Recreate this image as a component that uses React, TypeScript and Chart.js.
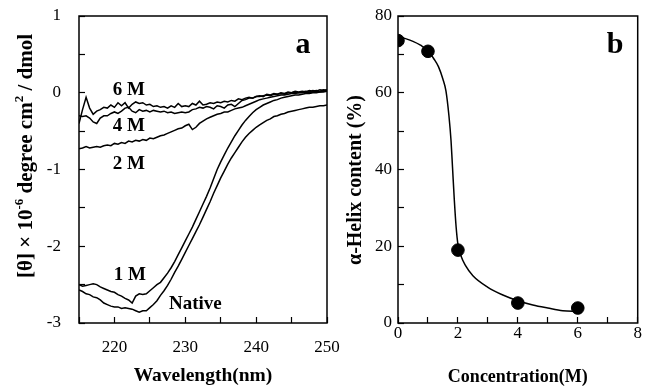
import React, { useEffect, useRef } from 'react';
import { Chart, registerables } from 'chart.js';

Chart.register(...registerables);

const SERIF = "'Liberation Serif', 'Times New Roman', Times, serif";

// ---------- Panel a: CD spectra ----------
const wavelengths = [
  215, 215.5, 216, 216.5, 217, 217.5, 218, 218.5, 219, 219.5,
  220, 220.5, 221, 221.5, 222, 222.5, 223, 223.5, 224, 224.5,
  225, 225.5, 226, 226.5, 227, 227.5, 228, 228.5, 229, 229.5,
  230, 230.5, 231, 231.5, 232, 232.5, 233, 233.5, 234, 234.5,
  235, 235.5, 236, 236.5, 237, 237.5, 238, 238.5, 239, 239.5,
  240, 240.5, 241, 241.5, 242, 242.5, 243, 243.5, 244, 244.5,
  245, 245.5, 246, 246.5, 247, 247.5, 248, 248.5, 249, 249.5, 250,
];

const nativeCD = [
  -2.57, -2.59, -2.62, -2.63, -2.66, -2.67, -2.70, -2.74, -2.76, -2.78,
  -2.79, -2.79, -2.81, -2.80, -2.81, -2.82, -2.84, -2.86, -2.84, -2.84,
  -2.80, -2.76, -2.71, -2.64, -2.58, -2.51, -2.43, -2.34, -2.26, -2.17,
  -2.08, -1.99, -1.90, -1.81, -1.72, -1.62, -1.52, -1.42, -1.31, -1.21,
  -1.11, -1.02, -0.93, -0.85, -0.78, -0.71, -0.64, -0.58, -0.53, -0.49,
  -0.45, -0.42, -0.39, -0.36, -0.34, -0.31, -0.30, -0.28, -0.27, -0.25,
  -0.24, -0.23, -0.22, -0.21, -0.20, -0.19, -0.19, -0.18, -0.17, -0.17, -0.16,
];

const oneM = [
  -2.50, -2.52, -2.51, -2.50, -2.49, -2.50, -2.53, -2.55, -2.57, -2.59,
  -2.60, -2.63, -2.65, -2.68, -2.70, -2.74, -2.65, -2.62, -2.63, -2.62,
  -2.58, -2.54, -2.50, -2.47, -2.41, -2.35, -2.28, -2.20, -2.11, -2.02,
  -1.93, -1.84, -1.75, -1.65, -1.55, -1.45, -1.35, -1.24, -1.12, -1.00,
  -0.90, -0.81, -0.72, -0.64, -0.56, -0.49, -0.42, -0.36, -0.31, -0.26,
  -0.22, -0.19, -0.16, -0.14, -0.12, -0.10, -0.09, -0.07, -0.06, -0.05,
  -0.04, -0.03, -0.03, -0.02, -0.01, -0.01, 0.00, 0.00, 0.01, 0.01, 0.02,
];

const twoM = [
  -0.73, -0.72, -0.70, -0.72, -0.71, -0.70, -0.71, -0.69, -0.68, -0.69,
  -0.66, -0.67, -0.65, -0.66, -0.63, -0.64, -0.62, -0.63, -0.61, -0.62,
  -0.59, -0.60, -0.58, -0.56, -0.55, -0.53, -0.51, -0.49, -0.47, -0.46,
  -0.43, -0.41, -0.48, -0.45, -0.40, -0.37, -0.34, -0.32, -0.30, -0.28,
  -0.27, -0.25, -0.25, -0.23, -0.21, -0.20, -0.19, -0.17, -0.15, -0.13,
  -0.11, -0.09, -0.08, -0.07, -0.06, -0.05, -0.04, -0.03, -0.03, -0.02,
  -0.01, -0.01, 0.00, 0.00, 0.01, 0.00, 0.01, 0.02, 0.01, 0.02, 0.02,
];

const fourM = [
  -0.30, -0.31, -0.30, -0.33, -0.38, -0.40, -0.33, -0.30, -0.30, -0.27,
  -0.25, -0.27, -0.24, -0.20, -0.19, -0.24, -0.26, -0.22, -0.24, -0.23,
  -0.25, -0.23, -0.24, -0.25, -0.24, -0.26, -0.25, -0.27, -0.26, -0.25,
  -0.26, -0.25, -0.22, -0.21, -0.19, -0.20, -0.18, -0.19, -0.21, -0.17,
  -0.18, -0.20, -0.16, -0.15, -0.18, -0.14, -0.10, -0.09, -0.07, -0.07,
  -0.05, -0.05, -0.04, -0.03, -0.04, -0.02, -0.02, -0.01, -0.02, 0.00,
  0.00, 0.01, 0.00, 0.01, 0.02, 0.01, 0.03, 0.02, 0.04, 0.03, 0.04,
];

const sixM = [
  -0.40, -0.22, -0.06, -0.20, -0.28, -0.24, -0.22, -0.19, -0.20, -0.16,
  -0.19, -0.13, -0.17, -0.13, -0.20, -0.15, -0.12, -0.14, -0.13, -0.16,
  -0.15, -0.18, -0.17, -0.19, -0.18, -0.20, -0.17, -0.19, -0.14, -0.18,
  -0.17, -0.18, -0.14, -0.16, -0.11, -0.16, -0.15, -0.13, -0.14, -0.12,
  -0.13, -0.11, -0.12, -0.10, -0.11, -0.08, -0.09, -0.07, -0.06, -0.07,
  -0.05, -0.04, -0.05, -0.02, -0.03, -0.01, -0.02, 0.00, -0.01, 0.01,
  0.00, 0.02, 0.01, 0.02, 0.01, 0.03, 0.02, 0.03, 0.02, 0.04, 0.03,
];

const seriesNames = ['6 M', '4 M', '2 M', '1 M', 'Native'];
const seriesLabelX = [219.75, 219.75, 219.75, 219.9, 227.7];
const seriesLabelY = [-0.03, -0.5, -0.99, -2.44, -2.82];

// ---------- Panel b: helix content ----------
const concentrations = [0, 1, 2, 4, 6];
const helixContent = [73.6, 70.8, 19.0, 5.2, 3.9];

const fitConc = [0, 0.25, 0.5, 0.75, 1.0, 1.2, 1.35, 1.5, 1.6, 1.7, 1.77, 1.82, 1.88, 1.94, 2.0, 2.1, 2.25, 2.5, 3.0, 3.5, 4.0, 4.5, 5.0, 5.5, 6.0];
const fitHelix = [74.5, 74.1, 73.4, 72.4, 71.0, 68.8, 66.8, 63.5, 60.5, 54, 47.5, 40.5, 32, 25, 20.5, 17.5, 15, 12.3, 9.3, 7.3, 5.8, 4.7, 3.9, 3.2, 3.0];

type Part = { text: string; sup?: boolean };

function drawRotatedRich(ctx: CanvasRenderingContext2D, parts: Part[], cx: number, cy: number, size: number) {
  ctx.save();
  ctx.translate(cx, cy);
  ctx.rotate(-Math.PI / 2);
  ctx.fillStyle = '#000';
  ctx.textAlign = 'left';
  ctx.textBaseline = 'alphabetic';
  const fonts = parts.map((p) => `bold ${p.sup ? Math.round(size * 0.62) : size}px ${SERIF}`);
  let total = 0;
  const widths = parts.map((p, i) => {
    ctx.font = fonts[i];
    const w = ctx.measureText(p.text).width;
    total += w;
    return w;
  });
  let x = -total / 2;
  const base = size * 0.33;
  parts.forEach((p, i) => {
    ctx.font = fonts[i];
    ctx.fillText(p.text, x, base - (p.sup ? size * 0.42 : 0));
    x += widths[i];
  });
  ctx.restore();
}

const framePlugin = {
  id: 'frame',
  afterDraw(chart: any) {
    const { ctx, chartArea } = chart;
    ctx.save();
    ctx.strokeStyle = '#000';
    ctx.lineWidth = 1.5;
    ctx.strokeRect(chartArea.left, chartArea.top, chartArea.right - chartArea.left, chartArea.bottom - chartArea.top);
    ctx.restore();
  },
};

function tickGrid() {
  return {
    drawOnChartArea: false,
    drawTicks: true,
    tickLength: -6,
    color: '#000',
    tickColor: '#000',
    tickWidth: 1.2,
  };
}

export default function App() {
  const refA = useRef<HTMLCanvasElement>(null);
  const refB = useRef<HTMLCanvasElement>(null);

  useEffect(() => {
    const series = [sixM, fourM, twoM, oneM, nativeCD];
    const annotA = {
      id: 'annotA',
      afterDraw(chart: any) {
        const { ctx } = chart;
        const xs = chart.scales.x;
        const ys = chart.scales.y;
        ctx.save();
        ctx.fillStyle = '#000';
        ctx.textAlign = 'left';
        ctx.textBaseline = 'alphabetic';
        ctx.font = `bold 19px ${SERIF}`;
        seriesNames.forEach((n, i) => {
          ctx.fillText(n, xs.getPixelForValue(seriesLabelX[i]), ys.getPixelForValue(seriesLabelY[i]));
        });
        ctx.font = `bold 30px ${SERIF}`;
        ctx.textAlign = 'center';
        ctx.fillText('a', 303, 53);
        ctx.restore();
        drawRotatedRich(
          ctx,
          [
            { text: '[θ] × 10' },
            { text: '-6', sup: true },
            { text: ' degree cm' },
            { text: '2', sup: true },
            { text: ' / dmol' },
          ],
          25,
          156,
          21
        );
      },
    };

    const chartA = new Chart(refA.current as HTMLCanvasElement, {
      type: 'line',
      data: {
        datasets: series.map((s, k) => ({
          label: seriesNames[k],
          data: wavelengths.map((w, i) => ({ x: w, y: s[i] })),
          borderColor: '#000',
          borderWidth: 1.5,
          pointRadius: 0,
          tension: 0,
          fill: false,
        })),
      },
      options: {
        responsive: false,
        animation: false,
        devicePixelRatio: 1,
        layout: { padding: { left: 0, right: 18, top: 16, bottom: 0 } },
        plugins: { legend: { display: false }, tooltip: { enabled: false } },
        scales: {
          x: {
            type: 'linear',
            min: 215,
            max: 250,
            grid: tickGrid() as any,
            border: { display: false },
            ticks: {
              stepSize: 5,
              autoSkip: false,
              maxRotation: 0,
              padding: 20,
              color: '#000',
              font: { family: SERIF, size: 17 },
              callback: (v: any) => (Number(v) % 10 === 0 ? String(v) : ''),
            },
            title: {
              display: true,
              text: 'Wavelength(nm)',
              color: '#000',
              font: { family: SERIF, size: 19.5, weight: 'bold' },
              padding: { top: 0, bottom: 0 },
            },
            afterFit: (s: any) => {
              s.height = 65;
              s.paddingLeft = 0;
              s.paddingRight = 0;
            },
          },
          y: {
            min: -3,
            max: 1,
            grid: tickGrid() as any,
            border: { display: false },
            ticks: {
              stepSize: 0.5,
              autoSkip: false,
              padding: 24,
              color: '#000',
              font: { family: SERIF, size: 17 },
              callback: (v: any) => (Number.isInteger(Number(v)) ? String(v) : ''),
            },
            afterFit: (s: any) => {
              s.width = 79;
              s.paddingTop = 0;
              s.paddingBottom = 0;
            },
          },
        },
      } as any,
      plugins: [framePlugin, annotA],
    });

    const annotB = {
      id: 'annotB',
      afterDraw(chart: any) {
        const { ctx } = chart;
        ctx.save();
        ctx.fillStyle = '#000';
        ctx.font = `bold 30px ${SERIF}`;
        ctx.textAlign = 'center';
        ctx.textBaseline = 'alphabetic';
        ctx.fillText('b', 615 - 330, 53);
        ctx.restore();
        drawRotatedRich(ctx, [{ text: 'α-Helix content (%)' }], 354 - 330, 180, 20);
      },
    };

    const chartB = new Chart(refB.current as HTMLCanvasElement, {
      type: 'line',
      data: {
        datasets: [
          {
            label: 'fit',
            data: fitConc.map((c, i) => ({ x: c, y: fitHelix[i] })),
            borderColor: '#000',
            borderWidth: 1.5,
            pointRadius: 0,
            cubicInterpolationMode: 'monotone',
            fill: false,
          },
          {
            label: 'helix',
            data: concentrations.map((c, i) => ({ x: c, y: helixContent[i] })),
            showLine: false,
            pointRadius: 6.3,
            pointBackgroundColor: '#000',
            pointBorderColor: '#000',
            borderColor: '#000',
            backgroundColor: '#000',
          },
        ],
      },
      options: {
        responsive: false,
        animation: false,
        devicePixelRatio: 1,
        layout: { padding: { left: 0, right: 2, top: 16, bottom: 0 } },
        plugins: { legend: { display: false }, tooltip: { enabled: false } },
        scales: {
          x: {
            type: 'linear',
            min: 0,
            max: 8,
            grid: tickGrid() as any,
            border: { display: false },
            ticks: {
              stepSize: 1,
              autoSkip: false,
              maxRotation: 0,
              padding: 6,
              color: '#000',
              font: { family: SERIF, size: 17 },
              callback: (v: any) => (Number(v) % 2 === 0 ? String(v) : ''),
            },
            title: {
              display: true,
              text: 'Concentration(M)',
              color: '#000',
              font: { family: SERIF, size: 18, weight: 'bold' },
              padding: { top: 0, bottom: 0 },
            },
            afterFit: (s: any) => {
              s.height = 65;
              s.paddingLeft = 0;
              s.paddingRight = 0;
            },
          },
          y: {
            min: 0,
            max: 80,
            grid: tickGrid() as any,
            border: { display: false },
            ticks: {
              stepSize: 10,
              autoSkip: false,
              padding: 12,
              color: '#000',
              font: { family: SERIF, size: 17 },
              callback: (v: any) => (Number(v) % 20 === 0 ? String(v) : ''),
            },
            afterFit: (s: any) => {
              s.width = 68;
              s.paddingTop = 0;
              s.paddingBottom = 0;
            },
          },
        },
      } as any,
      plugins: [framePlugin, annotB],
    });

    return () => {
      chartA.destroy();
      chartB.destroy();
    };
  }, []);

  return (
    <div style={{ position: 'absolute', left: 0, top: 0, width: 645, height: 388, background: '#fff', overflow: 'hidden' }}>
      <canvas ref={refA} width={345} height={388} style={{ position: 'absolute', left: 0, top: 0, width: 345, height: 388 }} />
      <canvas ref={refB} width={315} height={388} style={{ position: 'absolute', left: 330, top: 0, width: 315, height: 388 }} />
    </div>
  );
}
